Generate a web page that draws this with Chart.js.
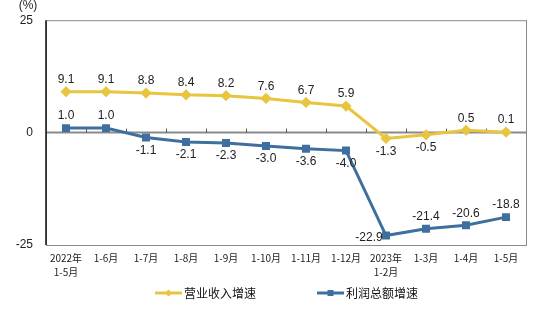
<!DOCTYPE html>
<html>
<head>
<meta charset="utf-8">
<script src="https://cdn.jsdelivr.net/npm/chart.js@4/dist/chart.umd.min.js"></script>
<style>
  html, body { margin: 0; padding: 0; background: #fff; }
  canvas { display: block; }
</style>
</head>
<body>
<canvas id="chart" width="551" height="322"></canvas>
<script>
// DATA
const categories = [["2022年", "1-5月"], "1-6月", "1-7月", "1-8月", "1-9月", "1-10月",
  "1-11月", "1-12月", ["2023年", "1-2月"], "1-3月", "1-4月", "1-5月"];
const revenueGrowth = [9.1, 9.1, 8.8, 8.4, 8.2, 7.6, 6.7, 5.9, -1.3, -0.5, 0.5, 0.1];
const profitGrowth = [1.0, 1.0, -1.1, -2.1, -2.3, -3.0, -3.6, -4.0, -22.9, -21.4, -20.6, -18.8];
const yTicks = [-25, 0, 25];
const seriesNames = ["营业收入增速", "利润总额增速"];

const YELLOW = "#E8C53F";
const BLUE = "#3F6F9E";
const GRAY = "#8a8a8a";

// where each value label sits: a = above, b = below, l = left-below
const labelPos = [
  ["a", "a", "a", "a", "a", "a", "a", "a", "b", "b", "a", "a"],
  ["a", "a", "b", "b", "b", "b", "b", "b", "l", "a", "a", "a"]
];

// FRAME, ZERO LINE, LABELS, LEGEND
const decor = {
  id: "decor",
  beforeDatasetsDraw(chart) {
    const { ctx, chartArea: a, scales } = chart;
    const y0 = scales.y.getPixelForValue(0);
    ctx.save();
    ctx.strokeStyle = GRAY;
    ctx.lineWidth = 1;
    ctx.strokeRect(a.left + 0.5, a.top + 0.5, a.right - a.left, a.bottom - a.top);
    // zero line
    ctx.lineWidth = 2;
    ctx.beginPath();
    ctx.moveTo(a.left, y0);
    ctx.lineTo(a.right, y0);
    ctx.stroke();
    // tick marks between categories
    ctx.lineWidth = 1;
    ctx.strokeStyle = "#555";
    for (let i = 0; i < categories.length - 1; i++) {
      const x = Math.round((scales.x.getPixelForValue(i) + scales.x.getPixelForValue(i + 1)) / 2) + 0.5;
      ctx.beginPath();
      ctx.moveTo(x, y0);
      ctx.lineTo(x, y0 - 4);
      ctx.stroke();
    }
    // left axis
    ctx.strokeStyle = "#111";
    ctx.lineWidth = 1.5;
    ctx.beginPath();
    ctx.moveTo(a.left, a.top);
    ctx.lineTo(a.left, a.bottom);
    ctx.stroke();
    ctx.restore();
  },
  afterDraw(chart) {
    const { ctx, chartArea: a } = chart;
    ctx.save();
    ctx.fillStyle = "#222";
    ctx.font = "12px 'Liberation Sans', Arial, sans-serif";
    ctx.textAlign = "center";
    ctx.textBaseline = "middle";
    chart.data.datasets.forEach((ds, di) => {
      const meta = chart.getDatasetMeta(di);
      meta.data.forEach((pt, i) => {
        const txt = ds.data[i].toFixed(1);
        const p = labelPos[di][i];
        let x = pt.x, y = pt.y;
        if (p === "a") y -= 12;
        else if (p === "b") y += 13;
        else { x -= 17; y += 2; }
        ctx.fillText(txt, x, y);
      });
    });
    // unit
    ctx.font = "12px 'Liberation Sans', Arial, sans-serif";
    ctx.fillText("(%)", 28, 6);
    // legend
    const ly = 293;
    const items = [{ x: 155, c: YELLOW, s: "diamond" }, { x: 317, c: BLUE, s: "square" }];
    ctx.font = "12px 'Noto Sans CJK SC', sans-serif";
    ctx.textAlign = "left";
    items.forEach((it, k) => {
      ctx.strokeStyle = it.c;
      ctx.fillStyle = it.c;
      ctx.lineWidth = 3;
      ctx.beginPath();
      ctx.moveTo(it.x, ly);
      ctx.lineTo(it.x + 27, ly);
      ctx.stroke();
      const cx = it.x + 13.5;
      if (it.s === "square") ctx.fillRect(cx - 3, ly - 3, 6, 6);
      else {
        ctx.beginPath();
        ctx.moveTo(cx, ly - 3.5); ctx.lineTo(cx + 3.5, ly); ctx.lineTo(cx, ly + 3.5); ctx.lineTo(cx - 3.5, ly);
        ctx.fill();
      }
      ctx.fillStyle = "#111";
      ctx.fillText(seriesNames[k], it.x + 29, ly);
    });
    ctx.restore();
  }
};

new Chart(document.getElementById("chart"), {
  type: "line",
  data: {
    labels: categories,
    datasets: [
      {
        label: seriesNames[0],
        data: revenueGrowth,
        borderColor: YELLOW,
        backgroundColor: YELLOW,
        borderWidth: 3,
        pointStyle: "rectRot",
        pointRadius: 3.5,
        tension: 0
      },
      {
        label: seriesNames[1],
        data: profitGrowth,
        borderColor: BLUE,
        backgroundColor: BLUE,
        borderWidth: 3,
        pointStyle: "rect",
        pointRadius: 3.5,
        tension: 0
      }
    ]
  },
  options: {
    responsive: false,
    animation: false,
    layout: { padding: { left: 0, right: 25, top: 16, bottom: 37 } },
    plugins: { legend: { display: false }, tooltip: { enabled: false } },
    scales: {
      x: {
        offset: true,
        grid: { display: false, drawTicks: false },
        border: { display: false },
        ticks: {
          autoSkip: false,
          maxRotation: 0,
          padding: 6,
          color: "#222",
          font: { family: "'Noto Sans CJK SC', sans-serif", size: 10, lineHeight: 1.4 }
        },
        afterFit: (s) => { s.height = 40; }
      },
      y: {
        min: -25,
        max: 25,
        afterBuildTicks: (s) => { s.ticks = yTicks.map(v => ({ value: v })); },
        grid: { display: false, drawTicks: false },
        border: { display: false },
        ticks: {
          padding: 13,
          color: "#222",
          font: { family: "'Liberation Sans', Arial, sans-serif", size: 12 }
        },
        afterFit: (s) => { s.width = 46; }
      }
    }
  },
  plugins: [decor]
});
</script>
</body>
</html>
